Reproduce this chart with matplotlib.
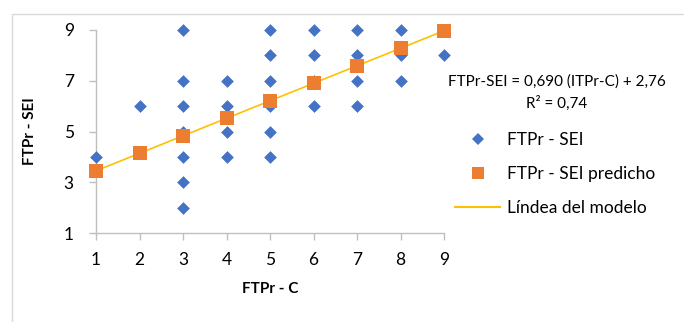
import numpy as np
from matplotlib import pyplot as plt
from matplotlib.lines import Line2D

plt.rcParams["font.family"] = ["Lato", "DejaVu Sans"]

# observed scores (ITPr-C vs FTPr-SEI)
ftpr_c = [1, 2, 3, 3, 3, 3, 3, 3, 3, 4, 4, 4, 4, 5, 5, 5, 5, 5, 5,
          6, 6, 6, 6, 7, 7, 7, 7, 8, 8, 8, 9, 9]
ftpr_sei = [4, 6, 9, 7, 6, 5, 4, 3, 2, 7, 6, 5, 4, 9, 8, 7, 6, 5, 4,
            9, 8, 7, 6, 9, 8, 7, 6, 9, 8, 7, 9, 8]

slope = 0.690
intercept = 2.76
r2 = 0.74
x_pred = [1, 2, 3, 4, 5, 6, 7, 8, 9]
y_pred = [intercept + slope * x for x in x_pred]

blue = "#4472C4"
orange = "#ED7D31"
gold = "#FFC000"
axis_grey = "#BFBFBF"

fig = plt.figure(figsize=(6.84, 3.22), dpi=100)
# outer chart border
fig.patches.append(plt.Rectangle((12 / 684, -0.01), 1.0, 0.9655, transform=fig.transFigure,
                                 fill=False, edgecolor="#D9D9D9", linewidth=1))

ax = fig.add_axes([96 / 684, 1 - 233 / 322, 348 / 684, 203 / 322])
ax.plot(x_pred, y_pred, color=gold, linewidth=1.2, zorder=2, clip_on=False)
ax.scatter(ftpr_c, ftpr_sei, marker="D", s=42, color=blue, linewidths=0, zorder=3, clip_on=False)
ax.scatter(x_pred, y_pred, marker="s", s=100, color=orange, linewidths=0, zorder=4, clip_on=False)

ax.set_xlim(1, 9)
ax.set_ylim(1, 9)
ax.set_xticks(range(1, 10))
ax.set_yticks([1, 3, 5, 7, 9])
for s in ["top", "right"]:
    ax.spines[s].set_visible(False)
for s in ["left", "bottom"]:
    ax.spines[s].set_color(axis_grey)
    ax.spines[s].set_linewidth(1)
ax.tick_params(colors=axis_grey, labelcolor="#000000", labelsize=12.5, length=5, width=1)
ax.tick_params(axis="x", pad=9)
ax.tick_params(axis="y", pad=11)
ax.set_xlabel("FTPr - C", fontsize=11, fontweight="bold", labelpad=10)
ax.set_ylabel("FTPr - SEI", fontsize=11, fontweight="bold", labelpad=19)

fig.text(557 / 684, 1 - 82 / 322, "FTPr-SEI = 0,690 (ITPr-C) + 2,76",
         ha="center", va="center", fontsize=11)
fig.text(557 / 684, 1 - 103 / 322, "R² = 0,74", ha="center", va="center", fontsize=11)

handles = [
    Line2D([], [], linestyle="none", marker="D", markersize=6.5, color=blue, markeredgewidth=0),
    Line2D([], [], linestyle="none", marker="s", markersize=9, color=orange, markeredgewidth=0),
    Line2D([], [], color=gold, linewidth=1.5),
]
labels = ["FTPr - SEI", "FTPr - SEI predicho", "Líndea del modelo"]
fig.legend(handles, labels, loc="upper left", bbox_to_anchor=(448 / 684, 1 - 125 / 322),
           frameon=False, fontsize=12.5, handlelength=2.6, handletextpad=0.4,
           labelspacing=1.05, borderaxespad=0)

plt.savefig("out.png", dpi=100)
